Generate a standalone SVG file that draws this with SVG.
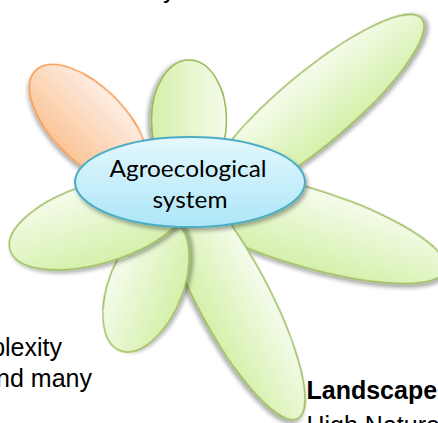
<svg xmlns="http://www.w3.org/2000/svg" width="438" height="423" viewBox="0 0 438 423">
<style>
.petal{fill:url(#gGreen);stroke:#9bbb59;stroke-width:1.5;filter:url(#sh)}
.orange{fill:url(#gOrange);stroke:#f79646;stroke-width:1.5;filter:url(#sh)}
.core{fill:url(#gBlue);stroke:#4bacc6;stroke-width:2;filter:url(#sh)}
.lbl{font-family:Lato,"Open Sans",sans-serif;font-size:23.5px;fill:#000}
.side{font-family:"Liberation Sans",Arial,sans-serif;font-size:25px;fill:#000}
</style>
<defs>
<linearGradient id="gGreen" x1="0" y1="0" x2="0" y2="1">
<stop offset="0" stop-color="#f5fcec"/>
<stop offset="1" stop-color="#d5f0aa"/>
</linearGradient>
<linearGradient id="gOrange" x1="0" y1="0" x2="0" y2="1">
<stop offset="0" stop-color="#fdeee4"/>
<stop offset="1" stop-color="#fbc597"/>
</linearGradient>
<linearGradient id="gBlue" x1="0" y1="0" x2="0" y2="1">
<stop offset="0" stop-color="#e4f8fd"/>
<stop offset="1" stop-color="#ade6f8"/>
</linearGradient>
<filter id="sh" x="-20%" y="-20%" width="140%" height="140%">
<feGaussianBlur in="SourceAlpha" stdDeviation="2"/>
<feOffset dx="1.5" dy="2.5" result="b"/>
<feComponentTransfer><feFuncA type="linear" slope="0.35"/></feComponentTransfer>
<feMerge><feMergeNode/><feMergeNode in="SourceGraphic"/></feMerge>
</filter>
</defs>
<text class="side" x="163" y="-2.5">y</text>
<g id="petal-right-lower"><ellipse class="petal" cx="0" cy="0" rx="150" ry="39" transform="translate(302 226) rotate(17)"/></g>
<g id="petal-bottom"><ellipse class="petal" cx="0" cy="0" rx="140" ry="36" transform="translate(232 295) rotate(62)"/></g>
<g id="petal-lower-left"><ellipse class="petal" cx="0" cy="0" rx="70" ry="37" transform="translate(146 285.6) rotate(-68)"/></g>
<g id="petal-left"><ellipse class="petal" cx="0" cy="0" rx="93" ry="40" transform="translate(99 223) rotate(-17)"/></g>
<g id="petal-orange"><ellipse class="orange" cx="0" cy="0" rx="75" ry="37" transform="translate(88.6 123.6) rotate(45)"/></g>
<g id="petal-top"><ellipse class="petal" cx="0" cy="0" rx="60" ry="37.5" transform="translate(189 120) rotate(90)"/></g>
<g id="petal-upper-right"><ellipse class="petal" cx="0" cy="0" rx="141" ry="36" transform="translate(313.6 109.2) rotate(-40)"/></g>
<g id="connectors"></g>
<g id="core">
<ellipse class="core" cx="190" cy="182" rx="115" ry="45"/>
<text class="lbl" x="188" y="176.5" text-anchor="middle" textLength="157" lengthAdjust="spacingAndGlyphs">Agroecological</text>
<text class="lbl" x="190" y="207.5" text-anchor="middle" textLength="75" lengthAdjust="spacingAndGlyphs">system</text>
</g>
<text class="side" x="62" y="356" text-anchor="end">complexity</text>
<text class="side" x="92" y="387" text-anchor="end">and many</text>
<text class="side" x="306.5" y="399" font-size="26" font-weight="bold">Landscape</text>
<text class="side" x="306.5" y="434" font-size="26">High Nature Value</text>
</svg>
